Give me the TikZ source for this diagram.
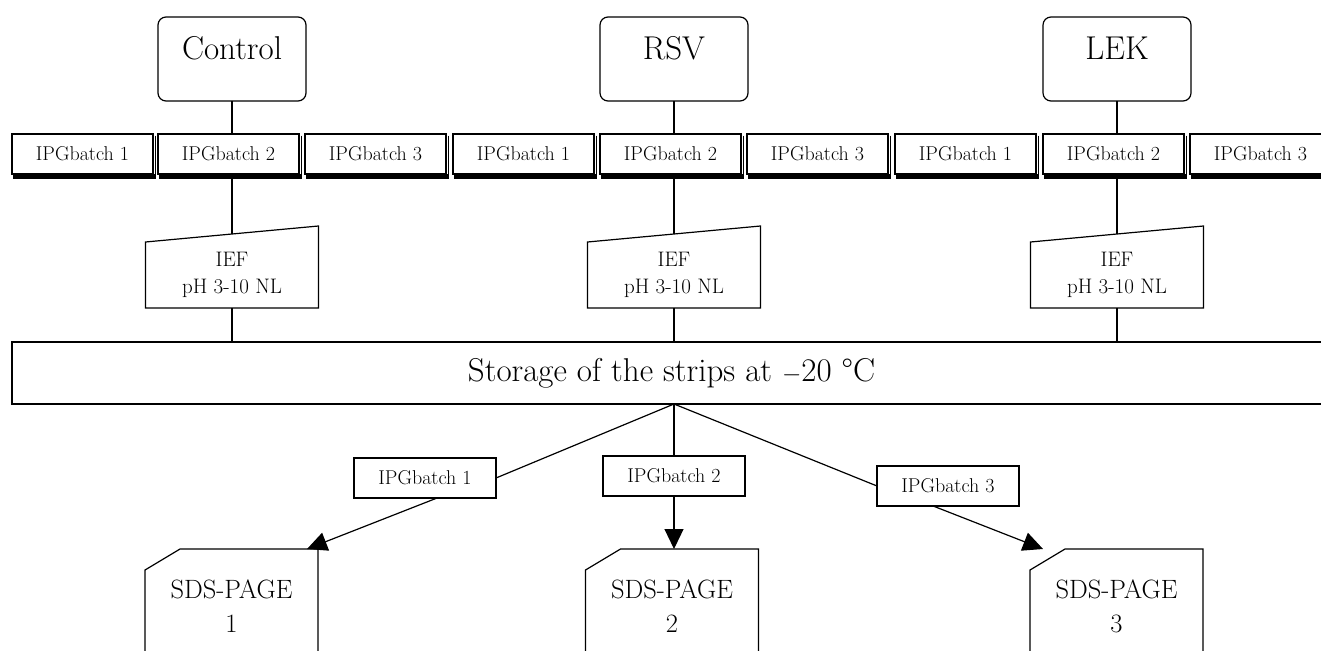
\documentclass[tikz,border=0pt]{standalone}
\usepackage{fontspec}
\usetikzlibrary{calc,arrows.meta}
\begin{document}
\begin{tikzpicture}[x=1pt,y=-1pt,line width=1.2pt,
  every node/.style={inner sep=0pt,outer sep=0pt},
  groupbox/.style={draw,rounded corners=8pt,minimum width=148pt,
    text height=43pt,text depth=41pt,anchor=north,
    font=\fontsize{33}{38}\selectfont},
  batchbox/.style={draw,fill=white,minimum width=141pt,minimum height=40pt,
    anchor=north west,font=\fontsize{20}{24}\selectfont},
  iefbox/.style={minimum width=173pt,minimum height=66pt,align=center,
    font=\fontsize{21}{27}\selectfont},
  storebox/.style={draw,minimum width=1319pt,minimum height=62pt,
    font=\fontsize{33}{38}\selectfont},
  gelbox/.style={anchor=north,minimum width=173pt,minimum height=114pt,
    align=center,font=\fontsize{26.5}{34}\selectfont},
  edgelabel/.style={draw,fill=white,minimum width=142pt,minimum height=40pt,
    font=\fontsize{20}{24}\selectfont},
  tip/.style={-{Triangle[length=20pt,width=19pt]}}
]
\useasboundingbox (0,0) rectangle (1321,650);
\clip (0,0) rectangle (1321,650);

% sample groups
\node[groupbox] (ctrl) at (232,17) {Control};
\node[groupbox] (rsv) at (674,17) {RSV};
\node[groupbox] (lek) at (1117,17) {LEK};

% IPG batch strips with drop shadows
\foreach \n/\x/\t in {c1/12/1,c2/158/2,c3/305/3,r1/453/1,r2/600/2,r3/747/3,l1/895/1,l2/1043/2,l3/1190/3}{
  \node[batchbox] (\n) at (\x,134) {IPGbatch \t};
  \fill ($(\n.south west)+(1,0)$) rectangle ($(\n.south east)+(3,4.5)$);
  \draw[line width=0.9pt] ($(\n.north east)+(2.4,1.5)$) -- ($(\n.south east)+(2.4,0)$);
}

% isoelectric focusing (manual input shapes)
\foreach \n/\x in {ief1/232,ief2/674,ief3/1117}{
  \node[iefbox] (\n) at (\x,275) {IEF\\pH 3-10 NL};
  \draw (\n.south west) -- (\n.north west) -- ($(\n.north east)+(0,-16)$)
        -- (\n.south east) -- cycle;
}

% storage
\node[storebox] (stor) at (671.5,373) {Storage of the strips at $-$20 °C};

% batch labels on the branches
\node[edgelabel] (b1) at (425,478) {IPGbatch 1};
\node[edgelabel] (b2) at (674,476) {IPGbatch 2};
\node[edgelabel] (b3) at (948,486) {IPGbatch 3};

% second dimension gels (card shapes)
\foreach \n/\x/\t in {s1/231.5/1,s2/672/2,s3/1116.5/3}{
  \node[gelbox] (\n) at (\x,549) {SDS-PAGE\\\t};
  \draw ($(\n.north west)+(0,150)$) -- ($(\n.north west)+(0,21)$)
        -- ($(\n.north west)+(35,0)$) -- (\n.north east)
        -- ($(\n.north east)+(0,150)$);
}

% connectors
\foreach \g/\b/\i in {ctrl/c2/ief1,rsv/r2/ief2,lek/l2/ief3}{
  \draw (\g.south) -- (\g.south |- \b.north);
  \draw (\g.south |- \b.south) -- ($(\i.north)+(0,-8)$);
  \draw (\i.south) -- (\i.south |- stor.north);
}
\coordinate (fork) at (stor.south -| rsv.south);
\draw (fork) -- (b1.east);
\draw (fork) -- (b2.north);
\draw (fork) -- (b3.west);
\draw[tip] ($(b1.south)!0.17!(b1.south east)$) -- ($(s1.north east)+(-11,0)$);
\draw[tip] (b2.south) -- (b2.south |- s2.north);
\draw[tip] ($(b3.south)!0.21!(b3.south west)$) -- ($(s3.north west)+(13,0)$);
\end{tikzpicture}
\end{document}
